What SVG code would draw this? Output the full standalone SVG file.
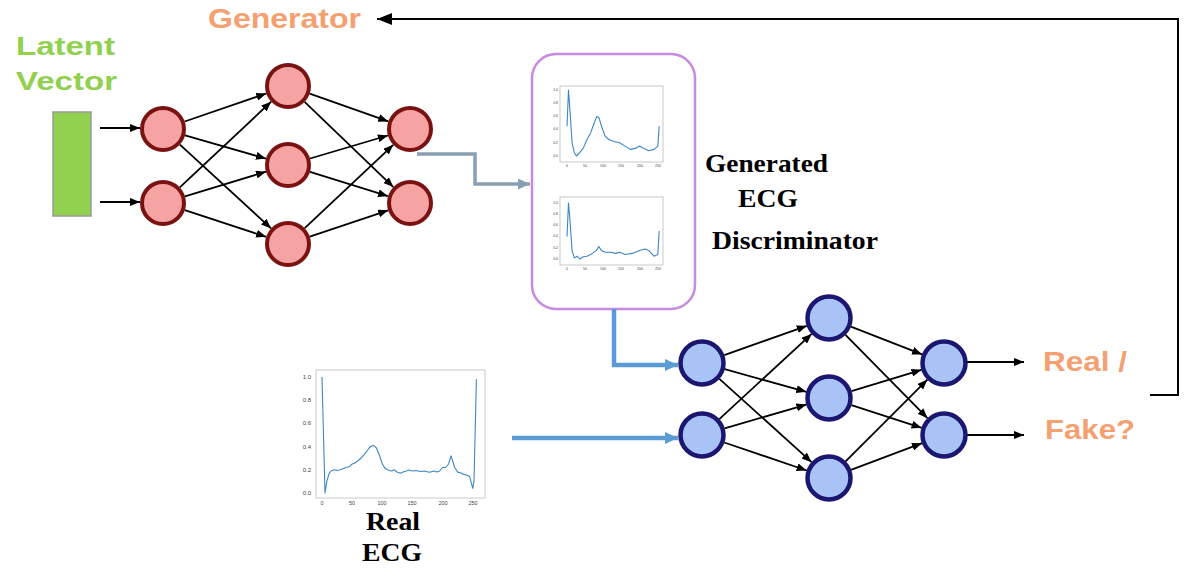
<svg xmlns="http://www.w3.org/2000/svg" width="1201" height="581" viewBox="0 0 1201 581">
<style>
.lbl-o{font-family:"Liberation Sans",Arial,sans-serif;font-weight:bold;fill:#f5a071}
.lbl-g{font-family:"Liberation Sans",Arial,sans-serif;font-weight:bold;fill:#92d050}
.lbl-s{font-family:"Liberation Serif","Times New Roman",serif;font-weight:bold;fill:#000;font-size:26px}
.gnode{fill:#f5a3a3;stroke:#7b1212;stroke-width:4}
.dnode{fill:#a9c3f7;stroke:#1b1670;stroke-width:4.5}
.edge{stroke:#000;stroke-width:1.8;fill:none;marker-end:url(#ah)}
.frame{fill:#fff;stroke:#bbb;stroke-width:0.8}
.wave{fill:none;stroke:#3d86c6;stroke-width:1.1;stroke-linejoin:round}
.tick{font-family:"Liberation Sans",Arial,sans-serif;fill:#444}
</style>
<defs>
<marker id="ah" markerUnits="userSpaceOnUse" markerWidth="10" markerHeight="8" refX="10" refY="4" orient="auto"><path d="M0,0 L10,4 L0,8 z" fill="#000"/></marker>
<marker id="ahBig" markerUnits="userSpaceOnUse" markerWidth="15" markerHeight="12" refX="15" refY="6" orient="auto"><path d="M0,0 L15,6 L0,12 z" fill="#000"/></marker>
<marker id="ahBlue" markerUnits="userSpaceOnUse" markerWidth="13" markerHeight="12" refX="13" refY="6" orient="auto"><path d="M0,0 L13,6 L0,12 z" fill="#5b9bd5"/></marker>
<marker id="ahGray" markerUnits="userSpaceOnUse" markerWidth="12" markerHeight="11" refX="12" refY="5.5" orient="auto"><path d="M0,0 L12,5.5 L0,11 z" fill="#8a9fb3"/></marker>
</defs>
<rect width="1201" height="581" fill="#fff"/>

<!-- labels -->
<g id="label-generator"><text class="lbl-o" x="208" y="28" font-size="28" textLength="153" lengthAdjust="spacingAndGlyphs">Generator</text></g>
<g id="label-latent"><text class="lbl-g" x="16" y="55" font-size="26" textLength="99" lengthAdjust="spacingAndGlyphs">Latent</text><text class="lbl-g" x="16" y="90" font-size="26" textLength="101" lengthAdjust="spacingAndGlyphs">Vector</text></g>
<g id="label-real-fake"><text class="lbl-o" x="1043" y="371" font-size="28" textLength="84" lengthAdjust="spacingAndGlyphs">Real /</text><text class="lbl-o" x="1045" y="439" font-size="28" textLength="90" lengthAdjust="spacingAndGlyphs">Fake?</text></g>
<g id="label-generated"><text class="lbl-s" x="705" y="172" textLength="123" lengthAdjust="spacingAndGlyphs">Generated</text><text class="lbl-s" x="738" y="207" textLength="60" lengthAdjust="spacingAndGlyphs">ECG</text></g>
<g id="label-discriminator"><text class="lbl-s" x="712" y="249" textLength="166" lengthAdjust="spacingAndGlyphs">Discriminator</text></g>
<g id="label-real-ecg"><text class="lbl-s" x="366" y="530" textLength="54" lengthAdjust="spacingAndGlyphs">Real</text><text class="lbl-s" x="362" y="561" textLength="60" lengthAdjust="spacingAndGlyphs">ECG</text></g>

<!-- latent vector -->
<g id="latent-vector"><rect x="53" y="112" width="38" height="104" fill="#92d050" stroke="#9a9a9a" stroke-width="1.5"/></g>

<!-- generated ECG box -->
<g id="generated-ecg-box">
<rect x="532" y="54" width="163" height="255" rx="24" fill="#fff" stroke="#c68ae0" stroke-width="2.5"/>
<rect class="frame" x="560" y="86" width="103" height="76"/>
<polyline class="wave" points="567,126.3 568.5,90 569.9,109.8 572.1,142.8 574.3,152.7 576.4,156 579.7,152.7 583.3,148.1 587,139.5 590.6,132.9 594.2,123 596.8,116.4 599,117.7 601.5,126.3 605.1,136.2 608.7,139.5 614.2,141.5 619.6,142.8 625.1,146.1 630.5,149.4 636,148.1 639.6,146.1 643.2,148.1 648.7,150.7 654.1,149.4 657.8,146.1 659.2,126.3"/>
<g class="tick" font-size="3.5" text-anchor="end"><text x="558" y="91">1.0</text><text x="558" y="104">0.8</text><text x="558" y="117">0.6</text><text x="558" y="130">0.4</text><text x="558" y="144">0.2</text><text x="558" y="157">0.0</text></g>
<g class="tick" font-size="3.5" text-anchor="middle"><text x="567" y="167">0</text><text x="585" y="167">50</text><text x="603" y="167">100</text><text x="621" y="167">150</text><text x="640" y="167">200</text><text x="658" y="167">250</text></g>
<rect class="frame" x="560" y="197" width="103" height="68"/>
<polyline class="wave" points="567,236.6 568.5,203 569.9,219.8 572.1,250.6 574.3,257.9 577.2,256.2 579.7,259 583.3,256.8 587,256.2 592.4,253.4 596,250.6 599,246.7 601.5,250.6 605.1,252.3 610.6,252.3 616,253.4 619.6,252.3 625.1,254.5 632.3,253.4 639.6,250.6 645,248.9 648.7,250.6 654.1,256.2 657.8,254.5 659.2,231"/>
<g class="tick" font-size="3.5" text-anchor="end"><text x="558" y="204">1.0</text><text x="558" y="215">0.8</text><text x="558" y="226">0.6</text><text x="558" y="237">0.4</text><text x="558" y="249">0.2</text><text x="558" y="260">0.0</text></g>
<g class="tick" font-size="3.5" text-anchor="middle"><text x="567" y="270">0</text><text x="585" y="270">50</text><text x="603" y="270">100</text><text x="621" y="270">150</text><text x="640" y="270">200</text><text x="658" y="270">250</text></g>
</g>

<!-- real ECG plot -->
<g id="real-ecg-plot">
<rect class="frame" x="316" y="370" width="169" height="128"/>
<polyline class="wave" points="322,377 325,493 326.8,481.4 329.2,473.3 331,471 334.1,469.8 337,470.5 340.1,469.8 343,468.8 346.1,467.5 349,466.8 352.2,464 355,463 358.2,460.5 361,458 364.2,454.7 367,451 370.2,446.6 373.3,445.4 376.3,447.8 379.3,454.7 382.3,464 385.3,468.6 388,470 391.3,471 394.4,469.8 397,472 400.4,473.3 403,472 406.4,471 409,470 412.5,471 416,470.5 420,471.5 424.5,471 428,472 430.5,472.1 434,471 437,472 439.6,471 442.6,467.5 445.6,467.5 448.6,464 451,455.9 454.7,467.5 457.7,472.1 461,473 463.7,474.4 467,475 469.7,476.8 472.8,488.4 474,481.4 476.4,379.3"/>
<g class="tick" font-size="6" text-anchor="end"><text x="311" y="379">1.0</text><text x="311" y="402">0.8</text><text x="311" y="425">0.6</text><text x="311" y="449">0.4</text><text x="311" y="472">0.2</text><text x="311" y="495">0.0</text></g>
<g class="tick" font-size="5.5" text-anchor="middle"><text x="322" y="505">0</text><text x="352" y="505">50</text><text x="382" y="505">100</text><text x="412" y="505">150</text><text x="443" y="505">200</text><text x="473" y="505">250</text></g>
</g>

<!-- connectors -->
<g id="connectors">
<line x1="100" y1="128" x2="140" y2="128" class="edge"/>
<line x1="100" y1="202" x2="140" y2="202" class="edge"/>
<line x1="184.7" y1="121.5" x2="266.3" y2="93.5" class="edge"/>
<line x1="185.1" y1="135.4" x2="265.9" y2="158.6" class="edge"/>
<line x1="179.9" y1="144.6" x2="271.1" y2="228.4" class="edge"/>
<line x1="179.8" y1="187.3" x2="271.2" y2="101.7" class="edge"/>
<line x1="185" y1="196.3" x2="266" y2="171.7" class="edge"/>
<line x1="184.9" y1="210.2" x2="266.1" y2="236.8" class="edge"/>
<line x1="309.7" y1="93.6" x2="388.3" y2="121.4" class="edge"/>
<line x1="304.6" y1="101.9" x2="393.4" y2="187.1" class="edge"/>
<line x1="310.1" y1="158.5" x2="387.9" y2="135.5" class="edge"/>
<line x1="310" y1="171.8" x2="388" y2="196.2" class="edge"/>
<line x1="304.7" y1="228.2" x2="393.3" y2="144.8" class="edge"/>
<line x1="309.8" y1="236.7" x2="388.2" y2="210.3" class="edge"/>
<polyline points="417,154 475,154 475,184 530,184" fill="none" stroke="#8a9fb3" stroke-width="3.5" marker-end="url(#ahGray)"/>
<polyline points="614,309 614,365 678,365" fill="none" stroke="#5b9bd5" stroke-width="4.5" marker-end="url(#ahBlue)"/>
<line x1="512" y1="438" x2="678" y2="438" stroke="#5b9bd5" stroke-width="4.5" marker-end="url(#ahBlue)"/>
<line x1="724.2" y1="355.2" x2="806.8" y2="325.8" class="edge"/>
<line x1="724.7" y1="369.2" x2="806.3" y2="391.8" class="edge"/>
<line x1="719.4" y1="378.8" x2="811.6" y2="462.2" class="edge"/>
<line x1="719.3" y1="419.1" x2="811.7" y2="333.9" class="edge"/>
<line x1="724.6" y1="428.4" x2="806.4" y2="404.6" class="edge"/>
<line x1="724.3" y1="442.5" x2="806.7" y2="470.5" class="edge"/>
<line x1="850.9" y1="326.6" x2="922.1" y2="354.4" class="edge"/>
<line x1="845.5" y1="334.8" x2="927.5" y2="418.2" class="edge"/>
<line x1="851.5" y1="391.2" x2="921.5" y2="369.8" class="edge"/>
<line x1="851.4" y1="405.2" x2="921.6" y2="427.8" class="edge"/>
<line x1="845.6" y1="461.4" x2="927.4" y2="379.6" class="edge"/>
<line x1="851" y1="469.8" x2="922" y2="443.2" class="edge"/>
<line x1="967" y1="362" x2="1024" y2="362" class="edge"/>
<line x1="967" y1="435" x2="1024" y2="435" class="edge"/>
<polyline points="1150,395 1178,395 1178,19 377,19" fill="none" stroke="#000" stroke-width="2" marker-end="url(#ahBig)"/>
</g>

<!-- generator nodes -->
<g id="gen-l1-n1"><circle class="gnode" cx="163" cy="129" r="21"/></g>
<g id="gen-l1-n2"><circle class="gnode" cx="163" cy="203" r="21"/></g>
<g id="gen-l2-n1"><circle class="gnode" cx="288" cy="86" r="21"/></g>
<g id="gen-l2-n2"><circle class="gnode" cx="288" cy="165" r="21"/></g>
<g id="gen-l2-n3"><circle class="gnode" cx="288" cy="244" r="21"/></g>
<g id="gen-l3-n1"><circle class="gnode" cx="410" cy="129" r="21"/></g>
<g id="gen-l3-n2"><circle class="gnode" cx="410" cy="203" r="21"/></g>

<!-- discriminator nodes -->
<g id="dis-l1-n1"><circle class="dnode" cx="702" cy="363" r="21.5"/></g>
<g id="dis-l1-n2"><circle class="dnode" cx="702" cy="435" r="21.5"/></g>
<g id="dis-l2-n1"><circle class="dnode" cx="829" cy="318" r="21.5"/></g>
<g id="dis-l2-n2"><circle class="dnode" cx="829" cy="398" r="21.5"/></g>
<g id="dis-l2-n3"><circle class="dnode" cx="829" cy="478" r="21.5"/></g>
<g id="dis-l3-n1"><circle class="dnode" cx="944" cy="363" r="21.5"/></g>
<g id="dis-l3-n2"><circle class="dnode" cx="944" cy="435" r="21.5"/></g>
</svg>
